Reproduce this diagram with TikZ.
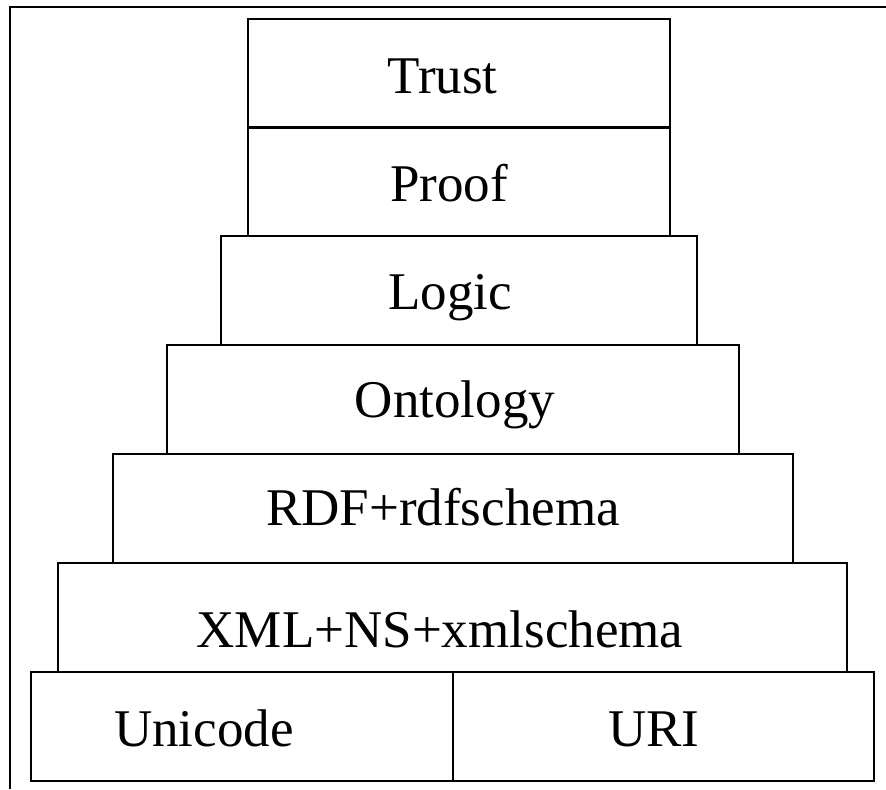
\documentclass[tikz,border=0pt]{standalone}
\usepackage{fontspec}
\setmainfont{Liberation Serif}

\begin{document}
\begin{tikzpicture}[x=0.5pt, y=-0.5pt]
    \tikzset{
        layerbox/.style={draw, line width=1pt, inner sep=0pt, minimum height=54.5pt},
        layertext/.style={anchor=base, inner sep=0pt, font=\fontsize{26.5}{32}\selectfont},
        framestyle/.style={line width=1.2pt, black}
    }
    \useasboundingbox (0,0) rectangle (886,789);

    % Cadre (haut et gauche)
    \draw[framestyle] (10,789) -- (10,7) -- (886,7);

    % Couches de la pile
    \node[layerbox, minimum width=211pt]   (trust) at (459,73)    {};
    \node[layerbox, minimum width=211pt]   (proof) at (459,181)   {};
    \node[layerbox, minimum width=238pt]   (logic) at (459,290)   {};
    \node[layerbox, minimum width=286pt]   (onto)  at (453,399)   {};
    \node[layerbox, minimum width=340pt]   (rdf)   at (453,508)   {};
    \node[layerbox, minimum width=394.5pt] (xml)   at (452.5,617) {};

    % Base : Unicode et URI
    \node[layerbox, minimum width=211pt]   (unicode) at (242,726)   {};
    \node[layerbox, minimum width=210.5pt] (uri)     at (663.5,726) {};

    % Textes
    \node[layertext] (trustlbl)   at ([xshift=-8.25pt, yshift=-10pt]trust.center)    {Trust};
    \node[layertext] (prooflbl)   at ([xshift=-5pt, yshift=-10.3pt]proof.center)     {Proof};
    \node[layertext] (logiclbl)   at ([xshift=-4.5pt, yshift=-9.5pt]logic.center)    {Logic};
    \node[layertext] (ontolbl)    at ([xshift=1pt, yshift=-9pt]onto.center)          {Ontology};
    \node[layertext] (rdflbl)     at ([xshift=-5pt, yshift=-8.75pt]rdf.center)       {RDF+rdfschema};
    \node[layertext] (xmllbl)     at ([xshift=-6.25pt, yshift=-15.25pt]xml.center)   {XML+NS+xmlschema};
    \node[layertext] (unicodelbl) at ([xshift=-19pt, yshift=-10.25pt]unicode.center) {Unicode};
    \node[layertext] (urilbl)     at ([xshift=-4.75pt, yshift=-10.25pt]uri.center)   {URI};

\end{tikzpicture}
\end{document}
